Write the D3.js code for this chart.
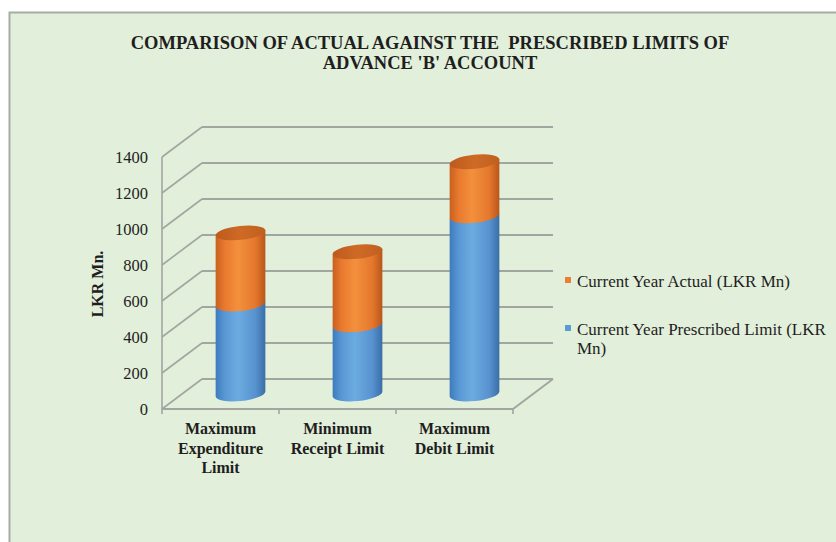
<!DOCTYPE html>
<html>
  <head>
    <meta charset="utf-8">
    <script src="https://d3js.org/d3.v7.min.js"></script>
    <style>
      body { margin: 0; background: white; }
      text { font-family: "Liberation Serif", "Times New Roman", serif; fill: #1e1e1e; }
    </style>
  </head>
  <body>
    <div id="chart"></div>
    <script>
      // data
      const categories = ["Maximum Expenditure Limit", "Minimum Receipt Limit", "Maximum Debit Limit"]
      const categoryLines = [["Maximum", "Expenditure", "Limit"], ["Minimum", "Receipt Limit"], ["Maximum", "Debit Limit"]]
      const prescribed = [500, 385, 990]   // Current Year Prescribed Limit (LKR Mn)
      const actual = [395, 405, 300]       // Current Year Actual (LKR Mn)
      const yTicks = [0, 200, 400, 600, 800, 1000, 1200, 1400]
      const legendNames = ["Current Year Actual (LKR Mn)", "Current Year Prescribed Limit (LKR Mn)"]
      const titleLines = ["COMPARISON OF ACTUAL AGAINST THE  PRESCRIBED LIMITS OF", "ADVANCE 'B' ACCOUNT"]

      const W = 836, H = 542
      const depth = {dx: 40, dy: -30}   // 3d offset of the back wall

      const svg = d3.select('#chart').append('svg')
        .attr('width', W).attr('height', H)

      // gradients for the cylinders
      const defs = svg.append('defs')
      const grad = (id, stops) => {
        const g = defs.append('linearGradient').attr('id', id)
          .attr('x1', '0%').attr('x2', '100%').attr('y1', '0%').attr('y2', '0%')
        stops.forEach(s => g.append('stop').attr('offset', s[0]).attr('stop-color', s[1]))
      }
      grad('gOrange', [['0%', '#c8601f'], ['18%', '#e9792e'], ['45%', '#f3903d'], ['80%', '#e4772c'], ['100%', '#b9561a']])
      grad('gBlue', [['0%', '#3d7bbf'], ['18%', '#5897d3'], ['45%', '#6cabe1'], ['80%', '#5792cf'], ['100%', '#3a6ea8']])
      grad('gOrangeTop', [['0%', '#bd5a1c'], ['50%', '#cf6a26'], ['100%', '#c0601f']])

      // chart area background
      svg.append('rect')
        .attr('x', 9.5).attr('y', 12.5).attr('width', W).attr('height', H)
        .attr('fill', '#e2efda').attr('stroke', '#a7aca3').attr('stroke-width', 2)

      // title, one text per line
      svg.append('g').selectAll('text').data(titleLines).join('text')
        .attr('x', 430).attr('y', (d, i) => 49 + i * 20)
        .attr('text-anchor', 'middle')
        .style('font-weight', 'bold').style('font-size', '18.5px')
        .style('white-space', 'pre')
        .text(d => d)

      const x = d3.scaleBand().domain(categories).range([162, 513])
      const y = d3.scaleLinear().domain([0, 1400]).range([409, 157])

      const grid = svg.append('g').attr('stroke', '#a2a6a0').attr('fill', 'none')

      // back wall lines
      grid.selectAll('.back').data(yTicks).join('line')
        .attr('x1', x.range()[0] + depth.dx).attr('x2', x.range()[1] + depth.dx)
        .attr('y1', d => y(d) + depth.dy).attr('y2', d => y(d) + depth.dy)
        .attr('stroke-width', 2)
      // side wall lines
      grid.selectAll('.side').data(yTicks).join('line')
        .attr('x1', x.range()[0]).attr('x2', x.range()[0] + depth.dx)
        .attr('y1', d => y(d)).attr('y2', d => y(d) + depth.dy)
        .attr('stroke-width', 1.6)
      // vertical axis
      grid.append('line')
        .attr('x1', x.range()[0]).attr('x2', x.range()[0])
        .attr('y1', y(0)).attr('y2', y(1400)).attr('stroke-width', 1.6)
      // floor front edge + right edge
      grid.append('path')
        .attr('d', `M${x.range()[0]},${y(0)} L${x.range()[1]},${y(0)} L${x.range()[1] + depth.dx},${y(0) + depth.dy}`)
        .attr('stroke-width', 2)
      // category ticks
      const bounds = categories.map(c => x(c)).concat([x.range()[1]])
      grid.selectAll('.tick').data(bounds).join('line')
        .attr('x1', d => d).attr('x2', d => d)
        .attr('y1', y(0)).attr('y2', y(0) + 5).attr('stroke-width', 1.6)

      // y tick labels
      svg.append('g').selectAll('text').data(yTicks).join('text')
        .attr('x', 148).attr('y', d => y(d))
        .attr('dy', '0.35em')
        .attr('text-anchor', 'end')
        .style('font-size', '16.5px')
        .text(d => d)

      // y axis title
      svg.append('text')
        .attr('transform', 'translate(103,284) rotate(-90)')
        .attr('text-anchor', 'middle')
        .style('font-weight', 'bold').style('font-size', '16px')
        .text('LKR Mn.')

      // x labels
      svg.append('g').selectAll('text').data(categories).join('text')
        .attr('x', d => x(d) + x.bandwidth() / 2)
        .attr('y', 434)
        .attr('text-anchor', 'middle')
        .style('font-weight', 'bold').style('font-size', '16px')
        .selectAll('tspan').data((d, i) => categoryLines[i]).join('tspan')
          .attr('x', function () { return d3.select(this.parentNode).attr('x') })
          .attr('dy', (d, i) => i ? 19.5 : 0)
          .text(d => d)

      // cylinders, placed half way into the depth
      const rx = 25, ry = 7, tilt = -6
      const s = Math.sin(-tilt * Math.PI / 180), c = Math.cos(-tilt * Math.PI / 180)
      const yc = v => y(v) + depth.dy / 2
      const body = (cx, v0, v1) => {
        const yb = yc(v0), yt = yc(v1)
        return `M${cx - rx * c},${yt + rx * s} L${cx - rx * c},${yb + rx * s}` +
          ` A${rx},${ry} ${tilt} 0 0 ${cx + rx * c},${yb - rx * s}` +
          ` L${cx + rx * c},${yt - rx * s} Z`
      }

      const cyl = svg.append('g')
      categories.forEach((cat, i) => {
        const cx = x(cat) + x.bandwidth() / 2 + depth.dx / 2
        const total = prescribed[i] + actual[i]
        cyl.append('path').attr('d', body(cx, 0, prescribed[i])).attr('fill', 'url(#gBlue)')
        cyl.append('path').attr('d', body(cx, prescribed[i], total)).attr('fill', 'url(#gOrange)')
        cyl.append('ellipse')
          .attr('cx', cx).attr('cy', yc(total)).attr('rx', rx).attr('ry', ry)
          .attr('transform', `rotate(${tilt},${cx},${yc(total)})`)
          .attr('fill', 'url(#gOrangeTop)')
      })

      // legend
      const legendColors = ['#ed7d31', '#5b9bd5']
      const legendY = [287, 335]
      const leg = svg.append('g')
      legendNames.forEach((name, i) => {
        leg.append('rect').attr('x', 565).attr('y', legendY[i] - 10).attr('width', 6).attr('height', 6)
          .attr('fill', legendColors[i])
      })
      leg.append('text').attr('x', 577).attr('y', legendY[0])
        .style('font-size', '17px').text(legendNames[0])
      leg.append('text').attr('x', 577).attr('y', legendY[1])
        .style('font-size', '17px')
        .selectAll('tspan').data(['Current Year Prescribed Limit (LKR', 'Mn)']).join('tspan')
          .attr('x', 577).attr('dy', (d, i) => i ? 19 : 0)
          .text(d => d)
    </script>
  </body>
</html>
